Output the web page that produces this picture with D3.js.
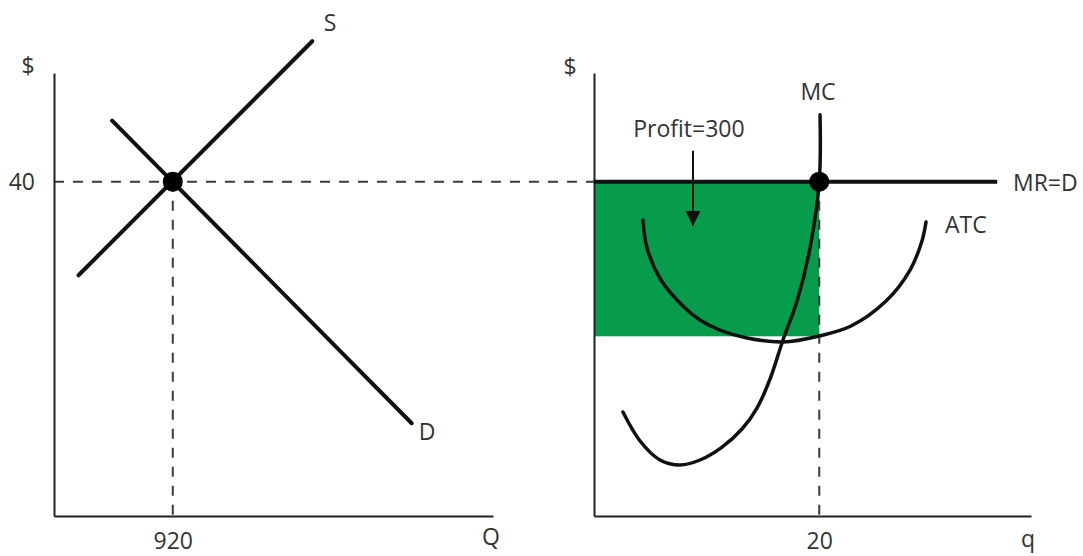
<!DOCTYPE html>
<html><head><meta charset="utf-8">
<script src="https://cdn.jsdelivr.net/npm/d3@7"></script>
<style>
html,body{margin:0;padding:0;background:#fff;}
svg{display:block;}
text{font-family:"Open Sans",sans-serif;fill:#333;}
</style>
</head><body>
<svg id="chart" width="1083" height="556"></svg>
<script>
// ---- data ----
const marketQDomain = [0, 3400];
const firmQDomain = [0, 38.8];
const priceDomain = [0, 53];
const eqPrice = 40;
const eqMarketQ = 920;
const firmQ = 20;
const atcAtFirmQ = 21.5;
const marketTicks = [920];
const firmTicks = [20];
const priceTicks = [40];
const supply = [[190, 28.8], [2000, 56.8]];
const demand = [[450, 47.3], [2770, 11.1]];
const mrLine = [[0, 40], [35.8, 40]];
const mcCurve = [[2.57,12.44],[4.09,8.97],[5.86,6.70],[7.64,6.10],[9.41,6.70],[11.37,8.25],[13.14,10.41],[14.47,12.92],[15.63,16.39],[16.78,21.06],[18.03,25.72],[19.18,32.06],[20,40],[20.07,48]];
const atcCurve = [[4.35,35.41],[4.71,32.06],[5.95,28.24],[8.08,24.89],[9.41,23.45],[11.19,22.25],[13.58,21.30],[16.78,20.82],[20,21.54],[22.82,22.73],[25.93,25.72],[28.06,29.43],[29.12,32.90],[29.48,35.17]];
const profitArrow = [[8.79, 43.7], [8.79, 34.7]];
const marketLabels = [
  {text: "S", q: 2138, p: 58.98, anchor: "middle"},
  {text: "D", q: 2889, p: 10.05, anchor: "middle"},
  {text: "$", q: -201, p: 53.84, anchor: "middle"},
  {text: "Q", q: 3385, p: -2.5, anchor: "middle"}
];
const firmLabels = [
  {text: "$", q: -2.13, p: 53.72, anchor: "middle"},
  {text: "MC", q: 19.89, p: 50.73, anchor: "middle"},
  {text: "Profit=300", q: 8.43, p: 46.3, anchor: "middle"},
  {text: "MR=D", q: 37.2, p: 39.84, anchor: "start"},
  {text: "ATC", q: 31.17, p: 34.81, anchor: "start"},
  {text: "q", q: 38.53, p: -2.7, anchor: "middle"}
];

// ---- scales ----
const svg = d3.select("#chart");
const xL = d3.scaleLinear().domain(marketQDomain).range([54, 493]);
const xR = d3.scaleLinear().domain(firmQDomain).range([594, 1031]);
const y = d3.scaleLinear().domain(priceDomain).range([516, 73]);

const FS = 23;
const dash = "10,9";

// profit rectangle
svg.append("rect")
  .attr("x", xR(0)).attr("y", y(eqPrice))
  .attr("width", xR(firmQ) - xR(0))
  .attr("height", y(atcAtFirmQ) - y(eqPrice))
  .attr("fill", "#079c4b");

// dashed guides
const dashG = svg.append("g").attr("stroke", "#3a3a3a").attr("stroke-width", 2).attr("stroke-dasharray", dash).attr("fill", "none");
dashG.append("line").attr("x1", xL(0)).attr("x2", xR(0)).attr("y1", y(eqPrice)).attr("y2", y(eqPrice));
dashG.append("line").attr("x1", xL(eqMarketQ)).attr("x2", xL(eqMarketQ)).attr("y1", y(eqPrice)).attr("y2", y(0));
dashG.append("line").attr("x1", xR(firmQ)).attr("x2", xR(firmQ)).attr("y1", y(eqPrice)).attr("y2", y(0));

// axes
function styleAxis(g) {
  g.attr("font-family", null).attr("font-size", null);
  g.select(".domain").attr("stroke", "#222").attr("stroke-width", 2);
  g.selectAll(".tick text").attr("fill", "#333").style("font-size", FS + "px");
}
svg.append("g").attr("transform", `translate(0,${y(0)})`)
  .call(d3.axisBottom(xL).tickValues(marketTicks).tickSize(0).tickSizeOuter(0).tickPadding(17).tickFormat(d3.format("d")))
  .call(styleAxis);
svg.append("g").attr("transform", `translate(${xL(0)},0)`)
  .call(d3.axisLeft(y).tickValues(priceTicks).tickSize(0).tickSizeOuter(0).tickPadding(19).tickFormat(d3.format("d")))
  .call(styleAxis);
svg.append("g").attr("transform", `translate(0,${y(0)})`)
  .call(d3.axisBottom(xR).tickValues(firmTicks).tickSize(0).tickSizeOuter(0).tickPadding(17).tickFormat(d3.format("d")))
  .call(styleAxis);
svg.append("g").attr("transform", `translate(${xR(0)},0)`)
  .call(d3.axisLeft(y).tickValues([]).tickSize(0).tickSizeOuter(0))
  .call(styleAxis);

// market lines
const lineL = d3.line().x(d => xL(d[0])).y(d => y(d[1]));
const lineR = d3.line().x(d => xR(d[0])).y(d => y(d[1]));
const curveR = d3.line().x(d => xR(d[0])).y(d => y(d[1])).curve(d3.curveCatmullRom.alpha(0.5));

[supply, demand].forEach(s => svg.append("path").attr("d", lineL(s))
  .attr("fill", "none").attr("stroke", "#111").attr("stroke-width", 4).attr("stroke-linecap", "round"));

// firm curves
[mcCurve, atcCurve].forEach(c => svg.append("path").attr("d", curveR(c))
  .attr("fill", "none").attr("stroke", "#111").attr("stroke-width", 3.5).attr("stroke-linecap", "round"));

svg.append("path").attr("d", lineR(mrLine)).attr("fill", "none").attr("stroke", "#111").attr("stroke-width", 4);

// arrow
svg.append("path").attr("d", lineR(profitArrow)).attr("fill", "none").attr("stroke", "#111").attr("stroke-width", 2);
const tipX = xR(profitArrow[1][0]), tipY = y(profitArrow[1][1]);
const head = d3.path();
head.moveTo(tipX, tipY); head.lineTo(tipX - 7.5, tipY - 15); head.lineTo(tipX + 7.5, tipY - 15); head.closePath();
svg.append("path").attr("d", head.toString()).attr("fill", "#111");

// equilibrium dots
svg.append("circle").attr("cx", xL(eqMarketQ)).attr("cy", y(eqPrice)).attr("r", 10).attr("fill", "#000");
svg.append("circle").attr("cx", xR(firmQ)).attr("cy", y(eqPrice)).attr("r", 10).attr("fill", "#000");

// labels
svg.selectAll(".lblL").data(marketLabels).join("text").attr("class", "lblL")
  .attr("x", d => xL(d.q)).attr("y", d => y(d.p)).attr("dy", "0.35em")
  .attr("text-anchor", d => d.anchor).style("font-size", FS + "px").text(d => d.text);
svg.selectAll(".lblR").data(firmLabels).join("text").attr("class", "lblR")
  .attr("x", d => xR(d.q)).attr("y", d => y(d.p)).attr("dy", "0.35em")
  .attr("text-anchor", d => d.anchor).style("font-size", FS + "px").text(d => d.text);
</script>
</body></html>
